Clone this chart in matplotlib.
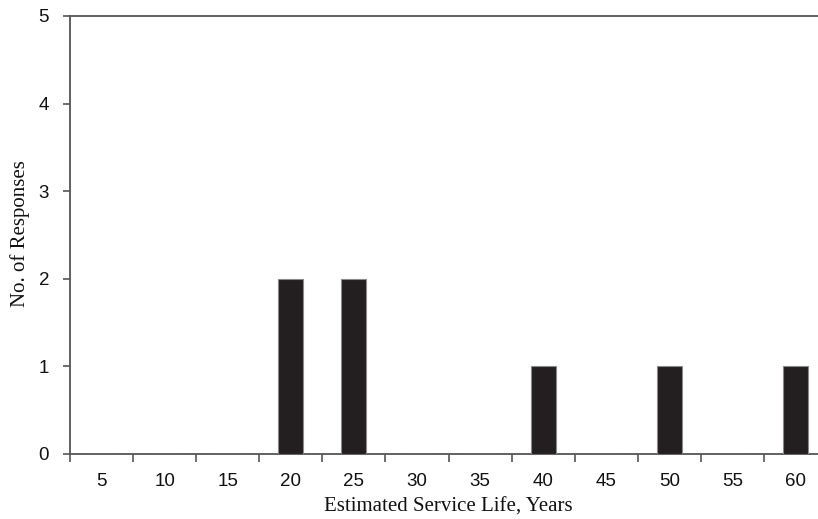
import matplotlib
matplotlib.use("Agg")
import matplotlib.pyplot as plt
import numpy as np

years = [5, 10, 15, 20, 25, 30, 35, 40, 45, 50, 55, 60]
responses = [0, 0, 0, 2, 2, 0, 0, 1, 0, 1, 0, 1]
y_ticks = [0, 1, 2, 3, 4, 5]

W, H = 818, 519
fig = plt.figure(figsize=(W / 100, H / 100), dpi=100)
ax = fig.add_axes([70 / W, (H - 454) / H, 757 / W, 438 / H])

x = np.arange(len(years))
ax.bar(x, responses, width=0.4, color="#231f20", edgecolor="#8a8a8a",
       linewidth=0.8, zorder=3)

ax.set_xlim(-0.5, len(years) - 0.5)
ax.set_ylim(0, 5)

spine_col = "#555555"
for side in ("left", "bottom", "top"):
    ax.spines[side].set_color(spine_col)
    ax.spines[side].set_linewidth(1.3)
ax.spines["right"].set_visible(False)

# category boundaries carry the tick marks, centers carry the labels
ax.set_xticks(np.arange(-0.5, len(years), 1.0))
ax.set_xticklabels([])
ax.set_xticks(x, minor=True)
ax.set_xticklabels([str(v) for v in years], minor=True)
ax.tick_params(axis="x", which="major", direction="out", length=6,
               width=1.2, color=spine_col)
ax.tick_params(axis="x", which="minor", length=0, pad=14,
               labelsize=13.5)
ax.set_yticks(y_ticks)
ax.set_yticklabels([str(v) for v in y_ticks])
ax.tick_params(axis="y", direction="out", length=5, width=1.2,
               color=spine_col, labelsize=13.5, pad=10)
for lab in ax.get_xticklabels(minor=True) + ax.get_yticklabels():
    lab.set_family(["Liberation Sans", "DejaVu Sans"])
    lab.set_color("#111111")

serif = ["Liberation Serif", "DejaVu Serif"]
fig.text(448 / W, 1 - 507 / H, "Estimated Service Life, Years",
         ha="center", va="center", family=serif, fontsize=15, color="#111111")
fig.text(20 / W, 1 - 234 / H, "No. of Responses", rotation=90,
         ha="center", va="center", family=serif, fontsize=15, color="#111111")

fig.savefig("out.png", dpi=100)
